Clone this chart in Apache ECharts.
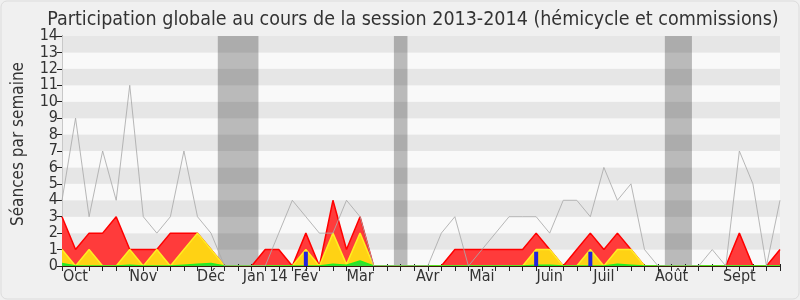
<!DOCTYPE html>
<html>
<head>
<meta charset="utf-8">
<script src="https://cdn.jsdelivr.net/npm/echarts@6/dist/echarts.min.js"></script>
<style>
html,body{margin:0;padding:0;background:#fff;}
#c{width:800px;height:300px;}
</style>
</head>
<body>
<div id="c"></div>
<script>
// Week labels (index = week number in session)
const weekLabels = ['', 'Oct', '', '', '', '', 'Nov', '', '', '', '', 'Déc', '', '', '', 'Jan 14', '', '', 'Fév', '', '', '', 'Mar', '', '', '', '', 'Avr', '', '', '', 'Mai', '', '', '', '', 'Juin', '', '', '', 'Juil', '', '', '', '', 'Août', '', '', '', '', 'Sept', '', '', ''];
// Totals (commission + hémicycle) per week
const totalSeances = [3, 1, 2, 2, 3, 1, 1, 1, 2, 2, 2, 1, 0, 0, 0, 1, 1, 0, 2, 0, 4, 1, 3, 0, 0, 0, 0, 0, 0, 1, 1, 1, 1, 1, 1, 2, 1, 0, 1, 2, 1, 2, 1, 0, 0, 0, 0, 0, 0, 0, 2, 0, 0, 1];
// Hémicycle presence (cumulative with interventions)
const hemicycle = [1, 0, 1, 0, 0, 1, 0, 1, 0, 1, 2, 1, 0, 0, 0, 0, 0, 0, 1, 0, 2, 0.1, 2, 0, 0, 0, 0, 0, 0, 0, 0, 0, 0, 0, 0, 1, 1, 0, 0, 1, 0, 1, 1, 0, 0, 0, 0, 0, 0, 0, 0, 0, 0, 0];
// Interventions
const interventions = [0.15, 0, 0, 0, 0, 0.05, 0, 0, 0, 0.05, 0.1, 0.15, 0, 0, 0, 0, 0, 0, 0, 0, 0.1, 0.05, 0.3, 0, 0, 0, 0, 0, 0, 0, 0, 0, 0, 0, 0, 0.05, 0.05, 0, 0, 0, 0, 0.1, 0.05, 0, 0, 0, 0, 0, 0, 0, 0, 0, 0, 0];
// Questions orales
const questions = [0, 0, 0, 0, 0, 0, 0, 0, 0, 0, 0, 0, 0, 0, 0, 0, 0, 0, 0.87, 0, 0, 0, 0, 0, 0, 0, 0, 0, 0, 0, 0, 0, 0, 0, 0, 0.87, 0, 0, 0, 0.87, 0, 0, 0, 0, 0, 0, 0, 0, 0, 0, 0, 0, 0, 0];
// Median of all deputies
const mediane = [4, 9, 3, 7, 4, 11, 3, 2, 3, 7, 3, 2, 0, 0, 0, 0, 2, 4, 3, 2, 2, 4, 3, 0, 0, 0, 0, 0, 2, 3, 0, 1, 2, 3, 3, 3, 2, 4, 4, 3, 6, 4, 5, 1, 0, 0, 0, 0, 1, 0, 7, 5, 0, 4];
// Vacation weeks [first, last]
const vacances = [[12, 14], [25, 25], [45, 46]];
const yTicks = [0, 14, 1];

const FONT = 'DejaVu Sans Condensed, DejaVu Sans, sans-serif';
const pairs = arr => arr.map((v, i) => [i, v]);
const nWeeks = weekLabels.length - 1;

const chart = echarts.init(document.getElementById('c'), null, {renderer: 'canvas'});
chart.setOption({
  animation: false,
  backgroundColor: '#f0f0f0',
  graphic: [{
    type: 'rect', left: 0.5, top: 0.5, z: -10,
    shape: {width: 798, height: 298, r: 6},
    style: {fill: '#f0f0f0', stroke: '#dcdcdc', lineWidth: 1}
  }, {
    type: 'text', x: 19, y: 144, rotation: Math.PI / 2, z: 10,
    style: {
      text: 'Séances par semaine', textAlign: 'center', textVerticalAlign: 'middle',
      fontFamily: FONT, fontSize: 17, fill: '#333'
    }
  }],
  title: {
    text: 'Participation globale au cours de la session 2013-2014 (hémicycle et commissions)',
    left: 408, top: 5, textAlign: 'center',
    textStyle: {fontFamily: FONT, fontSize: 19.5, fontWeight: 'normal', color: '#333'}
  },
  grid: {left: 62, right: 20, top: 36, bottom: 34},
  xAxis: [{
    type: 'value', min: 0, max: nWeeks, interval: 1, z: 10,
    axisLine: {show: true, onZero: false, lineStyle: {color: '#3a1a0a', width: 1}},
    axisTick: {show: true, length: 5, lineStyle: {color: '#222'}},
    axisLabel: {
      color: '#333', fontFamily: FONT, fontSize: 16, margin: 3,
      formatter: v => weekLabels[v] || ''
    },
    splitLine: {show: false}
  }, {
    type: 'value', min: 0, max: nWeeks, interval: 1, position: 'top',
    axisLine: {show: false},
    axisTick: {show: true, length: 2, lineStyle: {color: '#222'}},
    axisLabel: {show: false},
    splitLine: {show: false}
  }],
  yAxis: [{
    type: 'value', min: yTicks[0], max: yTicks[1], interval: yTicks[2],
    axisLine: {show: true, lineStyle: {color: '#222'}},
    axisTick: {show: true, length: 5, lineStyle: {color: '#222'}},
    axisLabel: {color: '#333', fontFamily: FONT, fontSize: 16, margin: 4},
    splitLine: {show: false},
    splitArea: {show: true, areaStyle: {color: ['#f9f9f9', '#e6e6e6']}}
  }, {
    type: 'value', min: yTicks[0], max: yTicks[1], interval: yTicks[2], position: 'right',
    axisLine: {show: true, lineStyle: {color: '#c8c8c8'}},
    axisTick: {show: false}, axisLabel: {show: false}, splitLine: {show: false}
  }],
  series: [{
    name: 'Présences', type: 'line', data: pairs(totalSeances), symbol: 'none', z: 2,
    lineStyle: {color: '#ff0000', width: 1.5},
    areaStyle: {color: '#ff3b3b', opacity: 1},
    markArea: {
      silent: true,
      itemStyle: {color: 'rgba(0,0,0,0.25)'},
      data: vacances.map(v => [{xAxis: v[0] - 0.5}, {xAxis: v[1] + 0.5}])
    }
  }, {
    name: 'Hémicycle', type: 'line', data: pairs(hemicycle), symbol: 'none', z: 3,
    lineStyle: {color: '#ffee22', width: 1.5},
    areaStyle: {color: '#ffd214', opacity: 1}
  }, {
    name: 'Interventions', type: 'line', data: pairs(interventions), symbol: 'none', z: 4,
    lineStyle: {color: '#22ee22', width: 1.5},
    areaStyle: {color: '#33dd33', opacity: 1}
  }, {
    name: 'Questions', type: 'bar', data: pairs(questions), barWidth: 4, z: 5,
    itemStyle: {color: '#2222dd'}
  }, {
    name: 'Médiane', type: 'line', data: pairs(mediane), symbol: 'none', z: 6,
    lineStyle: {color: 'rgba(170,170,170,0.85)', width: 1}
  }]
});
</script>
</body>
</html>
